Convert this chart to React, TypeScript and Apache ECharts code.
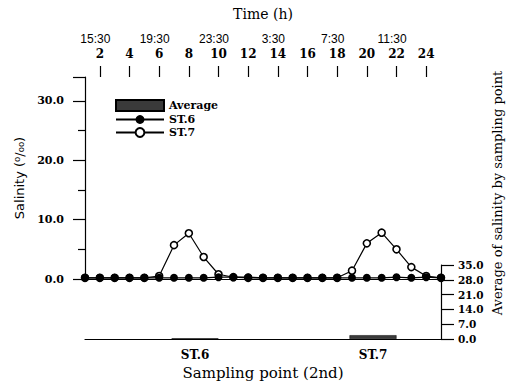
import React, { useEffect, useRef } from 'react';
import * as echarts from 'echarts';

const hours = ['1', '2', '3', '4', '5', '6', '7', '8', '9', '10', '11', '12', '13', '14', '15', '16', '17', '18', '19', '20', '21', '22', '23', '24', '25'];
const timeMarks = ['2', '6', '10', '14', '18', '22'];
const timeLabels = ['15:30', '19:30', '23:30', '3:30', '7:30', '11:30'];
const st6 = [0.2, 0.2, 0.2, 0.2, 0.2, 0.2, 0.2, 0.2, 0.2, 0.3, 0.3, 0.3, 0.2, 0.2, 0.2, 0.2, 0.2, 0.2, 0.2, 0.2, 0.2, 0.3, 0.2, 0.3, 0.2];
const st7 = [0.2, 0.2, 0.2, 0.2, 0.2, 0.5, 5.7, 7.7, 3.7, 0.8, 0.3, 0.2, 0.2, 0.2, 0.2, 0.2, 0.2, 0.2, 1.4, 6.0, 7.8, 5.0, 2.0, 0.5, 0.2];
const stations = ['ST.6', 'ST.7'];
const averages = [0.3, 1.8];

const SERIF = 'DejaVu Serif';
const black = { color: '#000', width: 1.2 };

export default function App() {
  const ref = useRef<HTMLDivElement>(null);
  useEffect(() => {
    const chart = echarts.init(ref.current!, null, { renderer: 'svg' });
    chart.setOption({
      animation: false,
      backgroundColor: '#fff',
      grid: [
        { left: 85, right: 69, top: 77, bottom: 106 },
        { left: 106, right: 48, top: 265, bottom: 46 },
        { left: 85, right: 69, top: 265, bottom: 46 },
      ],
      legend: {
        orient: 'vertical',
        left: 110,
        top: 94,
        itemGap: 2,
        itemWidth: 48,
        itemHeight: 11,
        data: [{ name: 'Average', icon: 'rect' }, 'ST.6', 'ST.7'],
        textStyle: { fontFamily: SERIF, fontWeight: 'bold', fontSize: 11, color: '#000' },
      },
      xAxis: [
        {
          gridIndex: 0, type: 'category', data: hours, position: 'top', boundaryGap: false,
          axisLine: { lineStyle: black },
          axisTick: { length: 5, interval: 0, lineStyle: black },
          axisLabel: { show: false },
          name: 'Time (h)', nameLocation: 'middle', nameGap: 56,
          nameTextStyle: { fontFamily: SERIF, fontSize: 14, color: '#000' },
        },
        {
          gridIndex: 0, type: 'category', data: hours, position: 'top', boundaryGap: false,
          axisLine: { show: false },
          axisTick: { length: 11, interval: (i: number) => i % 2 === 1, lineStyle: black },
          axisLabel: {
            interval: (i: number) => i % 2 === 1,
            margin: 17,
            formatter: (v: string) => {
              const k = timeMarks.indexOf(v);
              return k >= 0 ? `{t|${timeLabels[k]}}\n{n|${v}}` : `{n|${v}}`;
            },
            rich: {
              t: { fontFamily: 'Liberation Sans', fontSize: 12, lineHeight: 16, color: '#000', padding: [0, 9, 0, 0] },
              n: { fontFamily: SERIF, fontWeight: 'bold', fontSize: 12, lineHeight: 13, color: '#000' },
            },
          },
        },
        {
          gridIndex: 1, type: 'category', data: stations,
          axisLine: { show: false }, axisTick: { show: false },
          axisLabel: { margin: 10, fontFamily: SERIF, fontWeight: 'bold', fontSize: 12, color: '#000' },
        },
        {
          gridIndex: 2, type: 'value', min: 0, max: 1,
          axisLine: { show: true, onZero: false, lineStyle: black }, axisTick: { show: false },
          axisLabel: { show: false }, splitLine: { show: false },
          name: 'Sampling point (2nd)', nameLocation: 'middle', nameGap: 26,
          nameTextStyle: { fontFamily: SERIF, fontSize: 15, color: '#000' },
        },
      ],
      yAxis: [
        {
          gridIndex: 0, type: 'value', min: 0, max: 34, interval: 10,
          axisLine: { show: true, onZero: false, lineStyle: black },
          axisTick: { show: true, length: 12, lineStyle: black },
          minorTick: { show: true, splitNumber: 2, length: 7, lineStyle: black },
          splitLine: { show: false },
          axisLabel: { showMaxLabel: false, formatter: (v: number) => v.toFixed(1), margin: 21, fontFamily: SERIF, fontWeight: 'bold', fontSize: 11, color: '#000' },
          name: 'Salinity (⁰/₀₀)', nameLocation: 'middle', nameGap: 58,
          nameTextStyle: { fontFamily: 'DejaVu Sans', fontSize: 13, color: '#000' },
        },
        { gridIndex: 1, type: 'value', min: 0, max: 35, show: false },
        {
          gridIndex: 2, type: 'value', position: 'right', min: 0, max: 35, interval: 7,
          axisLine: { show: true, onZero: false, lineStyle: black },
          axisTick: { show: true, length: 13, lineStyle: black },
          splitLine: { show: false },
          axisLabel: { formatter: (v: number) => v.toFixed(1), margin: 17, fontFamily: SERIF, fontWeight: 'bold', fontSize: 10.5, color: '#000' },
        },
      ],
      graphic: [
        {
          type: 'text', x: 497, y: 193, rotation: Math.PI / 2,
          style: { text: 'Average of salinity by sampling point', font: '13px "DejaVu Serif"', textAlign: 'center', textVerticalAlign: 'middle', fill: '#000' },
        },
      ],
      series: [
        {
          name: 'Average', type: 'bar', xAxisIndex: 2, yAxisIndex: 1, data: averages, barWidth: 47,
          itemStyle: { color: '#3a3a3a', borderColor: '#000', borderWidth: 0.5 },
        },
        {
          name: 'ST.7', type: 'line', xAxisIndex: 0, yAxisIndex: 0, data: st7, z: 2,
          symbol: 'circle', symbolSize: 7,
          lineStyle: { color: '#000', width: 1.2 },
          itemStyle: { color: '#fff', borderColor: '#000', borderWidth: 1.6 },
        },
        {
          name: 'ST.6', type: 'line', xAxisIndex: 0, yAxisIndex: 0, data: st6, z: 3,
          symbol: 'circle', symbolSize: 8,
          lineStyle: { color: '#000', width: 1.2 },
          itemStyle: { color: '#000' },
        },
      ],
    });
    return () => chart.dispose();
  }, []);
  return <div ref={ref} style={{ position: 'fixed', left: 0, top: 0, width: 510, height: 385 }} />;
}
